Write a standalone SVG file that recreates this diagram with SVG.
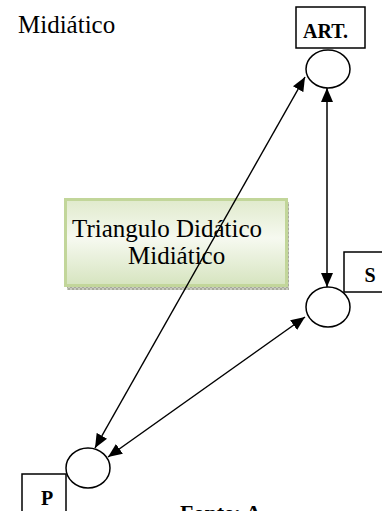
<svg xmlns="http://www.w3.org/2000/svg" width="382" height="511" viewBox="0 0 382 511">
<style>
.t{font-family:"Liberation Serif","Times New Roman",serif;fill:#000}
.b{font-weight:bold}
.box{fill:#fff;stroke:#000;stroke-width:1.5}
.node{fill:#fff;stroke:#000;stroke-width:1.5}
.con{stroke:#000;stroke-width:1.5;fill:none;marker-start:url(#ah);marker-end:url(#ah)}
</style>
<defs>
<marker id="ah" markerUnits="userSpaceOnUse" markerWidth="14" markerHeight="12" refX="14" refY="6" orient="auto-start-reverse" viewBox="0 0 14 12">
<path d="M0,0 L14,6 L0,12 z" fill="#000"/>
</marker>
<linearGradient id="gr" x1="0" y1="0" x2="0" y2="1">
<stop offset="0" stop-color="#e0eacc"/>
<stop offset="0.45" stop-color="#f6f9f0"/>
<stop offset="1" stop-color="#d6e4bf"/>
</linearGradient>
<pattern id="dots" width="4" height="4" patternUnits="userSpaceOnUse">
<rect width="4" height="4" fill="#c9cbc0"/>
<rect width="2" height="2" fill="#a7aa9c"/>
<rect x="2" y="2" width="2" height="2" fill="#a7aa9c"/>
</pattern>
</defs>

<text id="title" class="t" x="18" y="33" font-size="25">Midiático</text>

<g id="textbox">
<rect x="67" y="202" width="222" height="88" fill="url(#dots)"/>
<rect x="65.5" y="199.5" width="221" height="86" fill="url(#gr)" stroke="#c2d69a" stroke-width="3"/>
<text class="t" x="72" y="237" font-size="25">Triangulo Didático</text>
<text class="t" x="128" y="264" font-size="25">Midiático</text>
</g>

<g id="connectors">
<line class="con" x1="95" y1="448" x2="305" y2="77"/>
<line class="con" x1="327" y1="88" x2="327" y2="287"/>
<line class="con" x1="305" y1="317" x2="108" y2="457"/>
</g>

<g id="node-art">
<rect class="box" x="296" y="7" width="69" height="41"/>
<text class="t b" x="303" y="38" font-size="20">ART.</text>
<ellipse class="node" cx="328" cy="69" rx="22" ry="19"/>
</g>

<g id="node-s">
<rect class="box" x="344" y="252" width="45" height="40"/>
<text class="t b" x="370" y="282" font-size="20" text-anchor="middle">S</text>
<ellipse class="node" cx="328" cy="307" rx="22" ry="20"/>
</g>

<g id="node-p">
<rect class="box" x="22" y="474" width="44" height="45"/>
<text class="t b" x="47" y="505" font-size="20" text-anchor="middle">P</text>
<ellipse class="node" cx="88" cy="468" rx="22" ry="20"/>
</g>

<text id="source" class="t b" x="180" y="520" font-size="22">Fonte: A</text>
</svg>
